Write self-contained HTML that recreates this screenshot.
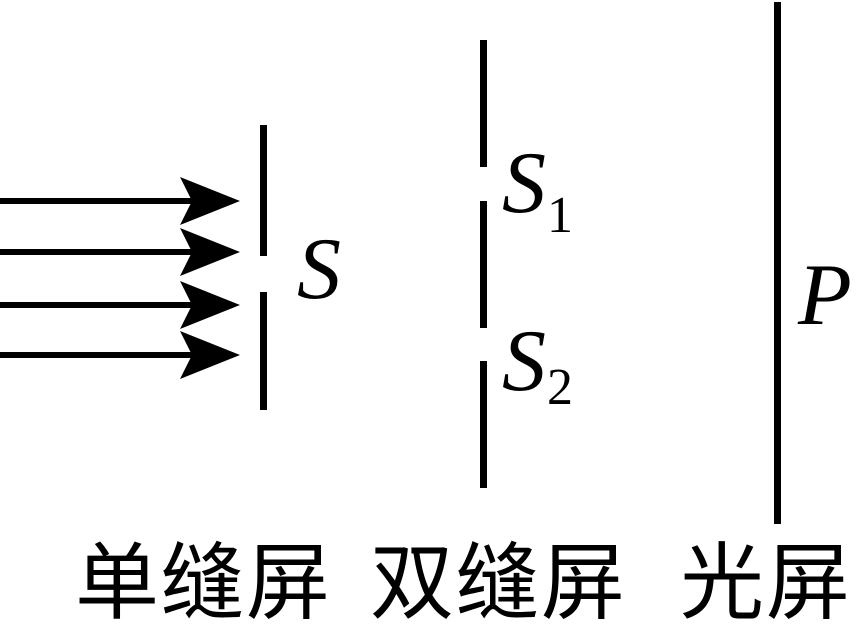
<!DOCTYPE html>
<html><head><meta charset="utf-8"><style>
html,body{margin:0;padding:0;background:#fff;width:860px;height:627px;overflow:hidden}
svg{display:block}
.l{font-family:"Liberation Serif","DejaVu Serif",serif;font-style:italic;font-size:88px}
.s{font-family:"Liberation Serif",serif;font-size:52px}
.c{font-family:"Liberation Sans","Noto Sans CJK SC",sans-serif;font-size:84px}
</style></head><body>
<svg width="860" height="627" viewBox="0 0 860 627">
<g stroke="#000" stroke-width="6">
<line x1="0" y1="201" x2="195" y2="201"/>
<line x1="0" y1="252" x2="195" y2="252"/>
<line x1="0" y1="305" x2="195" y2="305"/>
<line x1="0" y1="355" x2="195" y2="355"/>
</g>
<g fill="#000">
<polygon points="240,201 180,177 192,201 180,225"/>
<polygon points="240,252 180,228 192,252 180,276"/>
<polygon points="240,305 180,281 192,305 180,329"/>
<polygon points="240,355 180,331 192,355 180,379"/>
</g>
<g stroke="#000" stroke-width="7">
<line x1="263.5" y1="125" x2="263.5" y2="256"/>
<line x1="263.5" y1="292" x2="263.5" y2="410"/>
<line x1="483.5" y1="40" x2="483.5" y2="167"/>
<line x1="483.5" y1="201" x2="483.5" y2="328"/>
<line x1="483.5" y1="361" x2="483.5" y2="488"/>
<line x1="777.5" y1="2" x2="777.5" y2="524"/>
</g>
<text class="l" x="297" y="298">S</text>
<text class="l" x="502" y="212">S</text><text class="s" x="547" y="232">1</text>
<text class="l" x="502" y="390">S</text><text class="s" x="547" y="404">2</text>
<text class="l" x="798" y="324">P</text>
<text class="c" x="75" y="612" textLength="255">单缝屏</text>
<text class="c" x="370" y="612" textLength="255">双缝屏</text>
<text class="c" x="680" y="612" textLength="170">光屏</text>
</svg>
</body></html>
